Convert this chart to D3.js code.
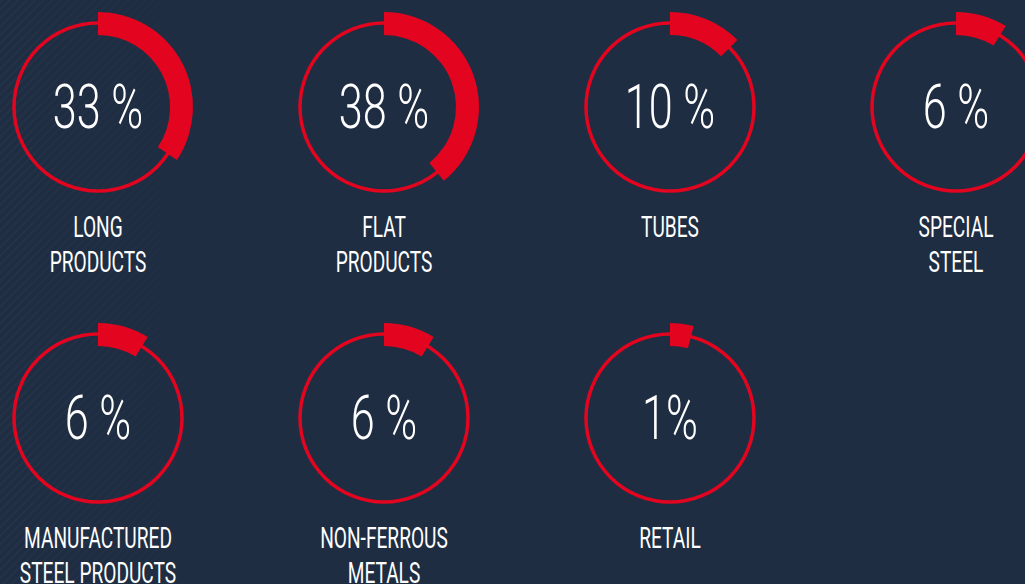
<!DOCTYPE html>
<html>
<head>
<meta charset="utf-8">
<script src="https://cdn.jsdelivr.net/npm/d3@7"></script>
<style>
  html, body { margin: 0; padding: 0; background: #1e2d42; overflow: hidden; }
  svg { display: block; }
</style>
</head>
<body>
<div id="chart"></div>
<script>
// segment shares, as printed on the picture
const categories = ["LONG PRODUCTS", "FLAT PRODUCTS", "TUBES", "SPECIAL STEEL",
                    "MANUFACTURED STEEL PRODUCTS", "NON-FERROUS METALS", "RETAIL"];
const labelLines = [["LONG", "PRODUCTS"], ["FLAT", "PRODUCTS"], ["TUBES"], ["SPECIAL", "STEEL"],
                    ["MANUFACTURED", "STEEL PRODUCTS"], ["NON-FERROUS", "METALS"], ["RETAIL"]];
const values = [33, 38, 10, 6, 6, 6, 1];
const valueLabels = ["33 %", "38 %", "10 %", "6 %", "6 %", "6 %", "1%"];

const width = 1025, height = 584;
const red = "#e3051f";

const svg = d3.select("#chart").append("svg")
    .attr("width", width)
    .attr("height", height);

// faint diagonal texture on the left edge
const defs = svg.append("defs");
const pat = defs.append("pattern")
    .attr("id", "stripes")
    .attr("width", 6).attr("height", 6)
    .attr("patternUnits", "userSpaceOnUse")
    .attr("patternTransform", "rotate(45)");
pat.append("rect").attr("width", 2).attr("height", 6).attr("fill", "#ffffff");
const fade = defs.append("linearGradient").attr("id", "fade")
    .attr("x1", 0).attr("x2", 1).attr("y1", 0).attr("y2", 0);
fade.append("stop").attr("offset", 0).attr("stop-color", "#fff").attr("stop-opacity", 1);
fade.append("stop").attr("offset", 1).attr("stop-color", "#fff").attr("stop-opacity", 0);
defs.append("mask").attr("id", "fadeMask")
    .append("rect").attr("width", 240).attr("height", height).attr("fill", "url(#fade)");

svg.append("rect").attr("width", width).attr("height", height).attr("fill", "#1e2d42");
svg.append("rect").attr("width", 240).attr("height", height)
    .attr("fill", "url(#stripes)").attr("opacity", 0.025)
    .attr("mask", "url(#fadeMask)");

// layout: 4 columns, 2 rows
const col = d3.scalePoint().domain(d3.range(4)).range([98, 956]);
const row = d3.scalePoint().domain(d3.range(2)).range([107, 418]);

// value -> end angle
const angle = d3.scaleLinear().domain([0, 100]).range([11 * Math.PI / 180, 353 * Math.PI / 180]);

const arc = d3.arc()
    .innerRadius(72)
    .outerRadius(95)
    .startAngle(0)
    .endAngle(d => angle(d));

const data = categories.map((c, i) => ({
    name: c, value: values[i], label: valueLabels[i], lines: labelLines[i], i
}));

const g = svg.selectAll(".gauge")
    .data(data)
    .enter().append("g")
    .attr("class", "gauge")
    .attr("transform", d => "translate(" + col(d.i % 4) + "," + row(Math.floor(d.i / 4)) + ")");

g.append("circle")
    .attr("r", 84)
    .attr("fill", "none")
    .attr("stroke", red)
    .attr("stroke-width", 3.5);

g.append("path")
    .attr("d", d => arc(d.value))
    .attr("fill", red);

// percentage, condensed by horizontal scaling
g.append("g")
    .attr("transform", "scale(0.72,1.02)")
    .append("text")
    .attr("text-anchor", "middle")
    .attr("y", 21)
    .attr("fill", "#ffffff")
    .style("font-family", "Roboto, 'Open Sans', sans-serif")
    .style("font-weight", 300)
    .style("font-size", "60px")
    .text(d => d.label);

// category label
g.append("g")
    .attr("transform", "translate(0,130) scale(0.66,1)")
    .append("text")
    .attr("text-anchor", "middle")
    .attr("fill", "#ffffff")
    .style("font-family", "Roboto, 'Open Sans', sans-serif")
    .style("font-weight", 400)
    .style("font-size", "29px")
    .selectAll("tspan")
    .data(d => d.lines)
    .enter().append("tspan")
    .attr("x", 0)
    .attr("y", (d, j) => j * 35)
    .text(d => d);
</script>
</body>
</html>
